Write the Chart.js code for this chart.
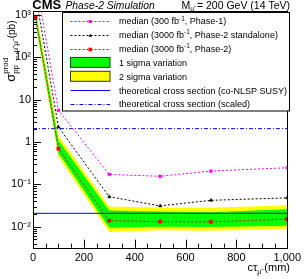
<!DOCTYPE html>
<html>
<head>
<meta charset="utf-8">
<script src="https://cdn.jsdelivr.net/npm/chart.js@4.4.0/dist/chart.umd.min.js"></script>
<style>
  html, body { margin: 0; padding: 0; background: #fff; }
  #wrap { width: 305px; height: 279px; }
</style>
</head>
<body>
<div id="wrap"><canvas id="chart" width="305" height="279"></canvas></div>
<script>
// lifetimes c*tau (mm)
const ctau = [10, 100, 300, 500, 700, 1000];

// expected median limits (pb)
const medianPhase1 = [7000, 5.6, 0.172, 0.155, 0.206, 0.247];
const medianStandalone = [3000, 2.26, 0.051, 0.031, 0.042, 0.048];
const medianPhase2 = [900, 0.70, 0.0139, 0.0132, 0.0130, 0.0150];

// 1 and 2 sigma bands around the Phase-2 median
const oneSigmaUp = [1150, 1.1, 0.024, 0.023, 0.022, 0.026];
const oneSigmaDown = [700, 0.55, 0.0095, 0.0100, 0.0098, 0.0105];
const twoSigmaUp = [1400, 1.4, 0.030, 0.028, 0.028, 0.032];
const twoSigmaDown = [600, 0.45, 0.0075, 0.0082, 0.0080, 0.0090];

// theory cross sections (flat in ctau)
const theoryX = [0, 1000];
const xsecSUSY = [0.0207, 0.0207];
const xsecScaled = [2.07, 2.07];

// axis
const yDecades = [-2, -1, 0, 1, 2, 3];
const yLabels = ['10\u207B\u00B2', '10\u207B\u00B9', '1', '10', '10\u00B2', '10\u00B3'];
const yMin = Math.pow(10, -2.496);
const yMax = Math.pow(10, 3.095);

const FONT = "'Liberation Sans', Arial, Helvetica, sans-serif";
const MU = '\u03BC\u0303';

const pts = (xs, ys) => xs.map((x, i) => ({ x: x, y: ys[i] }));

// all 1..9 x 10^n values inside the range, used for tick marks
const yTickValues = [];
for (let e = -3; e <= 3; e++) {
  for (let m = 1; m <= 9; m++) {
    const v = m * Math.pow(10, e);
    if (v >= yMin && v <= yMax) yTickValues.push(v);
  }
}

function medianSet(data, color, style, r) {
  return {
    data: data, borderColor: color, backgroundColor: color, borderWidth: 1,
    borderDash: [2, 2], pointStyle: style, pointRadius: r,
    pointBackgroundColor: color, pointBorderColor: color, pointBorderWidth: 0.5,
    fill: false, tension: 0
  };
}

function bandSet(data, color, fill) {
  return {
    data: data, borderWidth: 0, borderColor: color, backgroundColor: color,
    pointRadius: 0, fill: fill, tension: 0
  };
}

// draw a row of text pieces (size, style, dy, noAdvance)
function drawRuns(ctx, parts, x, y, align) {
  let total = 0;
  const widths = parts.map(p => {
    ctx.font = (p.style || '') + ' ' + p.size + 'px ' + FONT;
    return ctx.measureText(p.t).width;
  });
  parts.forEach((p, i) => { if (!p.noAdvance) total += widths[i]; });
  let cx = align === 'right' ? x - total : x;
  parts.forEach((p, i) => {
    ctx.font = (p.style || '') + ' ' + p.size + 'px ' + FONT;
    ctx.fillText(p.t, cx, y + (p.dy || 0));
    if (!p.noAdvance) cx += widths[i];
  });
}

function marker(ctx, style, x, y, s, color) {
  ctx.fillStyle = color;
  ctx.beginPath();
  if (style === 'triangle') {
    ctx.moveTo(x, y - s);
    ctx.lineTo(x + s, y + s * 0.7);
    ctx.lineTo(x - s, y + s * 0.7);
    ctx.closePath();
  } else {
    ctx.rect(x - s, y - s, 2 * s, 2 * s);
  }
  ctx.fill();
}

const decorations = {
  id: 'decorations',
  afterDraw(chart) {
    const ctx = chart.ctx;
    const a = chart.chartArea;
    const xs = chart.scales.x, ys = chart.scales.y;
    ctx.save();
    ctx.strokeStyle = '#000';
    ctx.lineWidth = 1;
    ctx.setLineDash([]);

    // inward tick marks
    ctx.beginPath();
    yTickValues.forEach(v => {
      const py = Math.round(ys.getPixelForValue(v)) + 0.5;
      const major = Math.abs(Math.log10(v) - Math.round(Math.log10(v))) < 1e-9;
      ctx.moveTo(a.left, py);
      ctx.lineTo(a.left + (major ? 8 : 4), py);
    });
    for (let v = 0; v <= 1000; v += 50) {
      const px = Math.round(xs.getPixelForValue(v)) + 0.5;
      ctx.moveTo(px, a.bottom);
      ctx.lineTo(px, a.bottom - (v % 200 === 0 ? 8 : 4));
    }
    ctx.stroke();

    // frame
    ctx.strokeRect(Math.round(a.left) + 0.5, Math.round(a.top) + 0.5,
      Math.round(a.right - a.left), Math.round(a.bottom - a.top));

    // legend box
    const lx = 62.5, ly = 12.5, lw = 227, lh = 98.5;
    ctx.fillStyle = '#fff';
    ctx.fillRect(lx, ly, lw, lh);
    ctx.strokeRect(lx, ly, lw, lh);

    const entries = [
      { kind: 'line', color: '#ff00ff', dash: [2, 2], mk: 'rect', ms: 1.5,
        text: [{ t: 'median (300 fb', size: 9 }, { t: '-1', size: 6.5, dy: -3.5 }, { t: ', Phase-1)', size: 9 }] },
      { kind: 'line', color: '#000', dash: [2, 2], mk: 'triangle', ms: 1.8,
        text: [{ t: 'median (3000 fb', size: 9 }, { t: '-1', size: 6.5, dy: -3.5 }, { t: ', Phase-2 standalone)', size: 9 }] },
      { kind: 'line', color: '#ff0000', dash: [2, 2], mk: 'rect', ms: 1.8,
        text: [{ t: 'median (3000 fb', size: 9 }, { t: '-1', size: 6.5, dy: -3.5 }, { t: ', Phase-2)', size: 9 }] },
      { kind: 'box', color: '#00ff00', text: [{ t: '1 sigma variation', size: 9 }] },
      { kind: 'box', color: '#ffff00', text: [{ t: '2 sigma variation', size: 9 }] },
      { kind: 'line', color: '#0000ff', dash: [],
        text: [{ t: 'theoretical cross section (co-NLSP SUSY)', size: 9 }] },
      { kind: 'line', color: '#0000ff', dash: [4, 2, 1, 2],
        text: [{ t: 'theoretical cross section (scaled)', size: 9 }] }
    ];
    entries.forEach((en, i) => {
      const cy = 20.7 + i * 13.9;
      if (en.kind === 'box') {
        ctx.fillStyle = en.color;
        ctx.fillRect(70.5, cy - 5, 39.5, 10);
        ctx.strokeStyle = '#333';
        ctx.setLineDash([]);
        ctx.strokeRect(70.5, cy - 5, 39.5, 10);
      } else {
        ctx.strokeStyle = en.color;
        ctx.setLineDash(en.dash);
        ctx.beginPath();
        ctx.moveTo(70.5, Math.round(cy) + 0.5);
        ctx.lineTo(110, Math.round(cy) + 0.5);
        ctx.stroke();
        ctx.setLineDash([]);
        if (en.mk) marker(ctx, en.mk, 90.3, Math.round(cy) + 0.5, en.ms, en.color);
      }
      ctx.fillStyle = '#000';
      ctx.textBaseline = 'alphabetic';
      ctx.textAlign = 'left';
      drawRuns(ctx, en.text, 119, cy + 3.3, 'left');
    });

    // header
    ctx.fillStyle = '#000';
    ctx.textAlign = 'left';
    ctx.textBaseline = 'alphabetic';
    drawRuns(ctx, [{ t: 'CMS', size: 13, style: 'bold' }], 32.3, 9, 'left');
    drawRuns(ctx, [{ t: 'Phase-2 Simulation', size: 10.3, style: 'italic' }], 65.5, 9, 'left');
    drawRuns(ctx, [{ t: 'M', size: 10.5 }, { t: MU, size: 6.5, dy: 2.5 },
      { t: ' = 200 GeV (14 TeV)', size: 10.5 }], 290, 8.5, 'right');

    // x axis title
    drawRuns(ctx, [{ t: 'c\u03C4', size: 11 }, { t: MU, size: 7, dy: 3 },
      { t: ' (mm)', size: 11 }], 290, 271, 'right');

    // y axis title, rotated
    const yParts = [
      { t: '\u03C3', size: 13 },
      { t: 'prod', size: 8, dy: -7, noAdvance: true },
      { t: 'pp \u2192 ' + MU + ' ' + MU, size: 8, dy: 3.5 },
      { t: ' (pb)', size: 10 }
    ];
    let tw = 0;
    yParts.forEach(p => {
      ctx.font = p.size + 'px ' + FONT;
      if (!p.noAdvance) tw += ctx.measureText(p.t).width;
    });
    ctx.translate(14.5, 20.5 + tw);
    ctx.rotate(-Math.PI / 2);
    drawRuns(ctx, yParts, 0, 0, 'left');
    ctx.restore();
  }
};

const ctx = document.getElementById('chart');
new Chart(ctx, {
  type: 'line',
  data: {
    datasets: [
      medianSet(pts(ctau, medianPhase1), '#ff00ff', 'rect', 1.9),
      medianSet(pts(ctau, medianStandalone), '#000000', 'triangle', 2),
      medianSet(pts(ctau, medianPhase2), '#ff0000', 'rect', 2.3),
      { data: pts(theoryX, xsecSUSY), borderColor: '#0000ff', borderWidth: 1, pointRadius: 0, fill: false },
      { data: pts(theoryX, xsecScaled), borderColor: '#0000ff', borderWidth: 1, borderDash: [4, 2, 1, 2], pointRadius: 0, fill: false },
      bandSet(pts(ctau, oneSigmaUp), '#00ff00', '+1'),
      bandSet(pts(ctau, oneSigmaDown), '#00ff00', false),
      bandSet(pts(ctau, twoSigmaUp), '#ffff00', '+1'),
      bandSet(pts(ctau, twoSigmaDown), '#ffff00', false)
    ]
  },
  options: {
    responsive: false,
    animation: false,
    events: [],
    layout: { padding: { top: 11, right: 15.5, left: 0, bottom: 0 } },
    plugins: {
      legend: { display: false },
      tooltip: { enabled: false }
    },
    scales: {
      x: {
        type: 'linear', min: 0, max: 1000,
        grid: { display: false, drawTicks: false },
        border: { display: false },
        ticks: { stepSize: 200, color: '#000', padding: 4, maxRotation: 0,
          font: { family: FONT, size: 11 } },
        afterFit: s => { s.height = 31.3; }
      },
      y: {
        type: 'logarithmic', min: yMin, max: yMax,
        grid: { display: false, drawTicks: false },
        border: { display: false },
        afterBuildTicks: s => { s.ticks = yTickValues.map(v => ({ value: v })); },
        ticks: {
          autoSkip: false, color: '#000', padding: 2,
          font: { family: FONT, size: 11 },
          callback: v => {
            const e = Math.log10(v);
            if (Math.abs(e - Math.round(e)) > 1e-9) return '';
            const i = yDecades.indexOf(Math.round(e));
            return i >= 0 ? yLabels[i] : '';
          }
        },
        afterFit: s => { s.width = 33; }
      }
    }
  },
  plugins: [decorations]
});
</script>
</body>
</html>
